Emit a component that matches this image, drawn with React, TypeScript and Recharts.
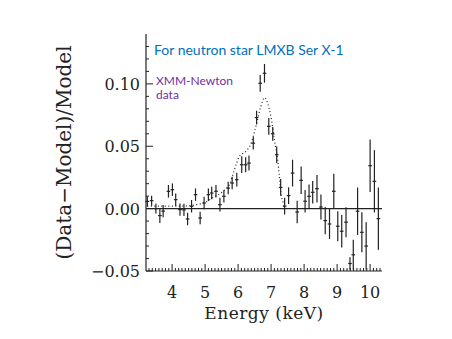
import React from 'react';
import {
  ComposedChart,
  Scatter,
  Line,
  XAxis,
  YAxis,
  ErrorBar,
  ReferenceLine,
} from 'recharts';

// (Data-Model)/Model residuals, XMM-Newton
const energy = [
  3.25, 3.38, 3.51, 3.63, 3.73, 3.89, 4.01, 4.11, 4.24, 4.36, 4.47, 4.59, 4.71, 4.85, 4.97,
  5.1, 5.2, 5.33, 5.45, 5.57, 5.7, 5.82, 5.96, 6.11, 6.23, 6.33, 6.46, 6.56, 6.67, 6.8,
  6.93, 7.05, 7.17, 7.29, 7.41, 7.53, 7.65, 7.79, 7.91, 8.03, 8.15, 8.26, 8.39, 8.51, 8.64,
  8.77, 8.9, 9.02, 9.14, 9.27, 9.39, 9.49, 9.62, 9.75, 9.88, 10.0, 10.13, 10.25,
];
const ratio = [
  0.0058, 0.0064, 0.0, -0.0056, -0.002, 0.0139, 0.0152, 0.0072, -0.0008, -0.001, -0.0083, 0.0019, 0.0112, -0.0075, 0.0045,
  0.0112, 0.0125, 0.0139, 0.0032, 0.0099, 0.0165, 0.0205, 0.0232, 0.0352, 0.0352, 0.0365, 0.0525, 0.073, 0.1005, 0.1085,
  0.066, 0.06, 0.0432, 0.017, 0.002, 0.0104, 0.0285, -0.0027, 0.0227, 0.0059, 0.0099, 0.0131, 0.016, 0.0013, -0.0096,
  -0.0123, 0.0139, -0.0141, -0.0181, -0.0109, -0.044, -0.037, -0.0021, -0.019, -0.03, 0.0344, 0.0219, -0.008,
];
const ratioErr = [
  0.004, 0.004, 0.004, 0.006, 0.005, 0.005, 0.005, 0.005, 0.005, 0.005, 0.005, 0.005, 0.005, 0.005, 0.005,
  0.005, 0.005, 0.005, 0.0055, 0.005, 0.005, 0.005, 0.0055, 0.0067, 0.006, 0.006, 0.005, 0.0055, 0.0067, 0.0075,
  0.0067, 0.0055, 0.0067, 0.0067, 0.0067, 0.0067, 0.0107, 0.009, 0.011, 0.009, 0.0095, 0.009, 0.011, 0.01, 0.011,
  0.012, 0.014, 0.012, 0.013, 0.012, 0.005, 0.012, 0.019, 0.016, 0.019, 0.021, 0.025, 0.025,
];
const binHalfWidth = 0.055;

// dotted model line
const modelEnergy = [
  3.25, 3.8, 4.3, 4.7, 5.0, 5.25, 5.55, 5.75, 5.84, 5.95, 6.04, 6.24, 6.39, 6.54, 6.69, 6.8,
  6.9, 7.0, 7.1, 7.2, 7.25, 7.3, 7.37, 7.42,
];
const modelRatio = [
  0.002, 0.002, 0.002, 0.003, 0.005, 0.009, 0.014, 0.02, 0.027, 0.036, 0.042, 0.046, 0.052, 0.066, 0.082, 0.089,
  0.084, 0.073, 0.055, 0.039, 0.026, 0.0125, 0.0045, 0.001,
];

const xMajorTicks = [4, 5, 6, 7, 8, 9, 10];
const yMajorTicks = [-0.05, 0, 0.05, 0.1];
// minor ticks every 0.1 keV / 0.01
const xTicks = Array.from({ length: 71 }, (_, i) => Math.round((3.3 + i * 0.1) * 10) / 10);
const yTicks = Array.from({ length: 19 }, (_, i) => Math.round((-0.05 + i * 0.01) * 100) / 100);

const points = energy.map((e, i) => ({ energy: e, ratio: ratio[i], dy: ratioErr[i], dx: binHalfWidth }));
const model = modelEnergy.map((e, i) => ({ energy: e, model: modelRatio[i] }));

const ink = '#222';
const serif = '"DejaVu Serif", serif';

const fmtY = (v: number) => (v < 0 ? '\u2212' + Math.abs(v).toFixed(2) : v.toFixed(2));

const BottomTick = ({ x, y, payload }: any) => {
  const major = xMajorTicks.includes(payload.value);
  return (
    <g>
      <line x1={x} x2={x} y1={y} y2={y - (major ? 7 : 3)} stroke={ink} />
      {major && (
        <text x={x} y={y + 27} textAnchor="middle" fontFamily={serif} fontSize={16} fill={ink}>
          {payload.value}
        </text>
      )}
    </g>
  );
};

const TopTick = ({ x, y, payload }: any) => {
  const major = xMajorTicks.includes(payload.value);
  return <line x1={x} x2={x} y1={y} y2={y + (major ? 7 : 3)} stroke={ink} />;
};

const LeftTick = ({ x, y, payload }: any) => {
  const major = yMajorTicks.includes(payload.value);
  return (
    <g>
      <line x1={x} x2={x + (major ? 7 : 3)} y1={y} y2={y} stroke={ink} />
      {major && (
        <text x={x - 6} y={y + 6} textAnchor="end" fontFamily={serif} fontSize={16} fill={ink}>
          {fmtY(payload.value)}
        </text>
      )}
    </g>
  );
};

const RightTick = ({ x, y, payload }: any) => {
  const major = yMajorTicks.includes(payload.value);
  return <line x1={x} x2={x - (major ? 7 : 3)} y1={y} y2={y} stroke={ink} />;
};

export default function App() {
  return (
    <div style={{ position: 'absolute', left: 0, top: 0, width: 452, height: 339, background: '#fff' }}>
      <ComposedChart width={452} height={339} margin={{ top: 34, right: 70, bottom: 20, left: 0 }}>
        <XAxis
          dataKey="energy"
          type="number"
          domain={[3.21, 10.36]}
          allowDataOverflow
          ticks={xTicks}
          interval={0}
          height={48}
          tickSize={0}
          tickMargin={0}
          tickLine={false}
          tick={<BottomTick />}
          axisLine={{ stroke: ink, strokeWidth: 1.2 }}
          label={{
            value: 'Energy (keV)',
            position: 'insideBottom',
            offset: 0,
            fontFamily: serif,
            fontSize: 17,
            fill: ink,
            style: { letterSpacing: '0.5px' },
          }}
        />
        <XAxis
          xAxisId="top"
          orientation="top"
          dataKey="energy"
          type="number"
          domain={[3.21, 10.36]}
          allowDataOverflow
          ticks={xTicks}
          interval={0}
          height={0}
          tickSize={0}
          tickMargin={0}
          tickLine={false}
          tick={<TopTick />}
          axisLine={{ stroke: ink, strokeWidth: 1.2 }}
        />
        <YAxis
          type="number"
          domain={[-0.05, 0.14]}
          allowDataOverflow
          ticks={yTicks}
          interval={0}
          width={146}
          tickSize={0}
          tickMargin={0}
          tickLine={false}
          tick={<LeftTick />}
          axisLine={{ stroke: ink, strokeWidth: 1.2 }}
          label={{
            value: '(Data\u2212Model)/Model',
            angle: -90,
            position: 'insideLeft',
            offset: 69,
            dx: -5,
            fontFamily: serif,
            fontSize: 20,
            fill: ink,
            style: { textAnchor: 'middle' },
          }}
        />
        <YAxis
          yAxisId="right"
          orientation="right"
          type="number"
          domain={[-0.05, 0.14]}
          allowDataOverflow
          ticks={yTicks}
          interval={0}
          width={0}
          tickSize={0}
          tickMargin={0}
          tickLine={false}
          tick={<RightTick />}
          axisLine={{ stroke: ink, strokeWidth: 1.2 }}
        />
        <ReferenceLine y={0} stroke={ink} strokeWidth={1.3} />
        <Line
          data={model}
          dataKey="model"
          type="monotone"
          stroke={ink}
          strokeWidth={1.2}
          strokeDasharray="1 2.5"
          dot={false}
          isAnimationActive={false}
        />
        <Scatter data={points} dataKey="ratio" shape={() => <g />} isAnimationActive={false}>
          <ErrorBar dataKey="dy" direction="y" width={0} stroke={ink} strokeWidth={1.2} />
          <ErrorBar dataKey="dx" direction="x" width={0} stroke={ink} strokeWidth={1.2} />
        </Scatter>
      </ComposedChart>
      <svg
        width={452}
        height={339}
        style={{ position: 'absolute', left: 0, top: 0, pointerEvents: 'none' }}
      >
        <text x={154} y={55} fontFamily="Lato, sans-serif" fontSize={14} fill="#0070C0">
          For neutron star LMXB Ser X-1
        </text>
        <text x={156} y={85} fontFamily="Lato, sans-serif" fontSize={12} fill="#7030A0">
          XMM-Newton
        </text>
        <text x={156} y={98.5} fontFamily="Lato, sans-serif" fontSize={12} fill="#7030A0">
          data
        </text>
      </svg>
    </div>
  );
}
